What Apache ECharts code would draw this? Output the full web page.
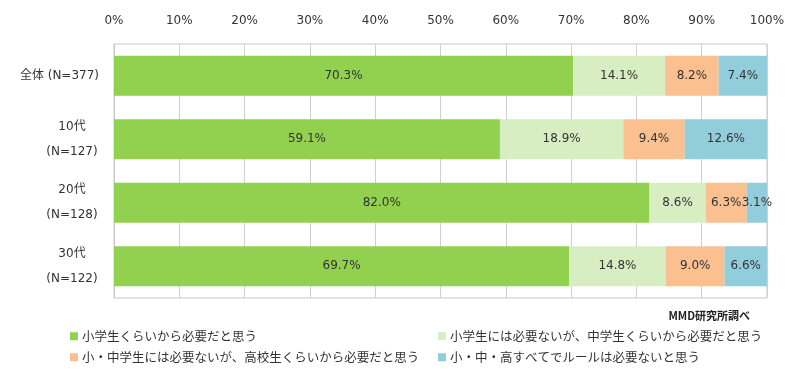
<!DOCTYPE html>
<html><head><meta charset="utf-8">
<script src="https://cdn.jsdelivr.net/npm/echarts@6/dist/echarts.min.js"></script>
<style>html,body{margin:0;padding:0;background:#fff}#c{width:800px;height:386px}</style>
</head><body><div id="c"></div>
<script>
var categories = ['全体 (N=377)', '10代\n(N=127)', '20代\n(N=128)', '30代\n(N=122)'];
var seriesNames = ['小学生くらいから必要だと思う', '小学生には必要ないが、中学生くらいから必要だと思う', '小・中学生には必要ないが、高校生くらいから必要だと思う', '小・中・高すべてでルールは必要ないと思う'];
var s1 = [70.3, 59.1, 82.0, 69.7];
var s2 = [14.1, 18.9, 8.6, 14.8];
var s3 = [8.2, 9.4, 6.3, 9.0];
var s4 = [7.4, 12.6, 3.1, 6.6];
var colors = ['#92D050', '#D7EEC2', '#FAC090', '#92CDDC'];
var font = '"DejaVu Sans", "Noto Sans CJK JP", sans-serif';
var cjk = '"Noto Sans CJK JP", sans-serif';

var chart = echarts.init(document.getElementById('c'));
var data = [s1, s2, s3, s4];
var series = data.map(function (d, i) {
  return {
    name: seriesNames[i], type: 'bar', stack: 'a', barWidth: 40,
    data: d, itemStyle: { color: colors[i] },
    label: { show: true, position: 'inside', color: '#333', fontSize: 12, fontFamily: font,
      formatter: function (p) { return p.value.toFixed(1) + '%'; } }
  };
});
function lg(i, left, top) {
  return { data: [seriesNames[i]], left: left, top: top, padding: 0, icon: 'rect', itemWidth: 8, itemHeight: 8,
    itemGap: 4, textStyle: { fontSize: 12.5, color: '#333', fontFamily: cjk, padding: [0, 0, 0, -1] } };
}
chart.setOption({
  animation: false,
  textStyle: { fontFamily: font },
  grid: { left: 114, right: 33, top: 44, height: 254, show: true, borderColor: '#c8c8c8', borderWidth: 1 },
  xAxis: { type: 'value', position: 'top', min: 0, max: 100, interval: 10,
    axisLabel: { formatter: '{value}%', color: '#333', fontSize: 12, margin: 17, fontFamily: font },
    axisLine: { show: false }, axisTick: { show: false },
    splitLine: { lineStyle: { color: '#d0d0d0' } } },
  yAxis: { type: 'category', data: categories, inverse: true,
    axisLine: { show: true, lineStyle: { color: '#c8c8c8' } }, axisTick: { show: false },
    axisLabel: { color: '#333', fontSize: 12, margin: 15, align: 'right', fontFamily: font,
      formatter: function (v) {
        var parts = v.split('\n');
        if (parts.length === 1) return '{b|' + v + '}';
        return parts.map(function (p) { return '{a|' + p + '}'; }).join('\n');
      },
      rich: {
        a: { width: 54, align: 'center', fontSize: 12, color: '#333', lineHeight: 25, fontFamily: font },
        b: { fontSize: 12, color: '#333', fontFamily: font }
      } } },
  legend: [lg(0, 70, 330), lg(1, 438, 330), lg(2, 70, 351), lg(3, 438, 351)],
  graphic: [{ type: 'text', right: 50, top: 310,
    style: { text: 'MMD研究所調べ', font: 'bold 11px ' + cjk, fill: '#222' } }],
  series: series
});
</script></body></html>
